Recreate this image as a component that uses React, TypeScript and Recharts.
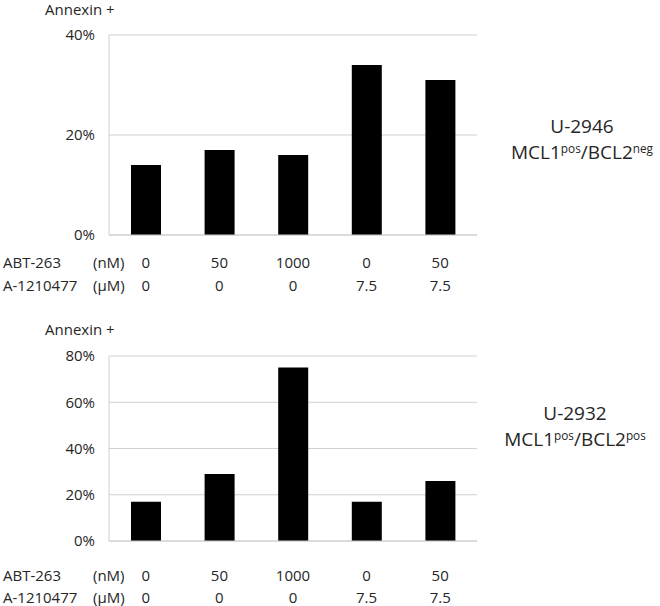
import React from "react";
import { BarChart, Bar, XAxis, YAxis, CartesianGrid } from "recharts";

const abtDoses = ["0", "50", "1000", "0", "50"];
const a121Doses = ["0", "0", "0", "7.5", "7.5"];
const u2946Values = [14, 17, 16, 34, 31];
const u2932Values = [17, 29, 75, 17, 26];
const u2946Ticks = [0, 20, 40];
const u2932Ticks = [0, 20, 40, 60, 80];

const FONT = "'Open Sans', sans-serif";
const TEXT = "#262626";
const GRID = "#d0d0d0";
const FS = 15;

const makeRows = (values: number[]) =>
  values.map((v, i) => ({ key: abtDoses[i] + "/" + a121Doses[i], abt: abtDoses[i], a121: a121Doses[i], value: v }));

function DoseTick(props: any) {
  const { x, y, index, row1, row2 } = props;
  const style = { fontFamily: FONT, fontSize: FS, fill: TEXT };
  return (
    <g>
      {index === 0 && (
        <>
          <text x={3} y={y + row1} dominantBaseline="central" style={style}>ABT-263</text>
          <text x={93} y={y + row1} dominantBaseline="central" style={style}>(nM)</text>
          <text x={3} y={y + row2} dominantBaseline="central" style={style}>A-1210477</text>
          <text x={93} y={y + row2} dominantBaseline="central" style={style}>(µM)</text>
        </>
      )}
      <text x={x} y={y + row1} textAnchor="middle" dominantBaseline="central" style={style}>{abtDoses[index]}</text>
      <text x={x} y={y + row2} textAnchor="middle" dominantBaseline="central" style={style}>{a121Doses[index]}</text>
    </g>
  );
}

function Panel({ values, ticks, height, top, row1, row2 }: { values: number[]; ticks: number[]; height: number; top: number; row1: number; row2: number }) {
  const data = makeRows(values);
  return (
    <BarChart width={480} height={height} data={data} margin={{ top, right: 3, left: 0, bottom: 0 }}>
      <CartesianGrid vertical={false} stroke={GRID} />
      <XAxis
        dataKey="key"
        height={65}
        axisLine={{ stroke: GRID }}
        tickLine={false}
        tickSize={0}
        tickMargin={0}
        interval={0}
        tick={<DoseTick row1={row1} row2={row2} />}
      />
      <YAxis
        width={109}
        domain={[ticks[0], ticks[ticks.length - 1]]}
        ticks={ticks}
        tickFormatter={(v: number) => v + "%"}
        axisLine={{ stroke: GRID }}
        tickLine={false}
        tickSize={0}
        tickMargin={14}
        tick={{ fontFamily: FONT, fontSize: FS, fill: TEXT }}
      />
      <Bar dataKey="value" fill="#000" barSize={30} isAnimationActive={false} />
    </BarChart>
  );
}

function SideLabel({ name, sup1, sup2, cx, cy }: { name: string; sup1: string; sup2: string; cx: number; cy: number }) {
  const supStyle: React.CSSProperties = { fontSize: "0.62em", verticalAlign: "0.55em", lineHeight: 0 };
  return (
    <div style={{ position: "absolute", left: cx - 100, top: cy - 26, width: 200, textAlign: "center", fontFamily: FONT, fontSize: 19, color: TEXT, lineHeight: "26px" }}>
      <div>{name}</div>
      <div>
        MCL1<span style={supStyle}>{sup1}</span>/BCL2<span style={supStyle}>{sup2}</span>
      </div>
    </div>
  );
}

export default function App() {
  const labelStyle: React.CSSProperties = { position: "absolute", left: 45, fontFamily: FONT, fontSize: FS, color: TEXT, lineHeight: "18px" };
  return (
    <div style={{ position: "absolute", left: 0, top: 0, width: 660, height: 606, background: "#fff", overflow: "hidden" }}>
      <div style={{ ...labelStyle, top: 0 }}>Annexin +</div>
      <div style={{ position: "absolute", left: 0, top: 0 }}>
        <Panel values={u2946Values} ticks={u2946Ticks} height={300} top={35} row1={27} row2={50} />
      </div>
      <SideLabel name="U-2946" sup1="pos" sup2="neg" cx={582} cy={139} />

      <div style={{ ...labelStyle, top: 320 }}>Annexin +</div>
      <div style={{ position: "absolute", left: 0, top: 300 }}>
        <Panel values={u2932Values} ticks={u2932Ticks} height={306} top={56} row1={33.5} row2={55.5} />
      </div>
      <SideLabel name="U-2932" sup1="pos" sup2="pos" cx={575} cy={426} />
    </div>
  );
}
